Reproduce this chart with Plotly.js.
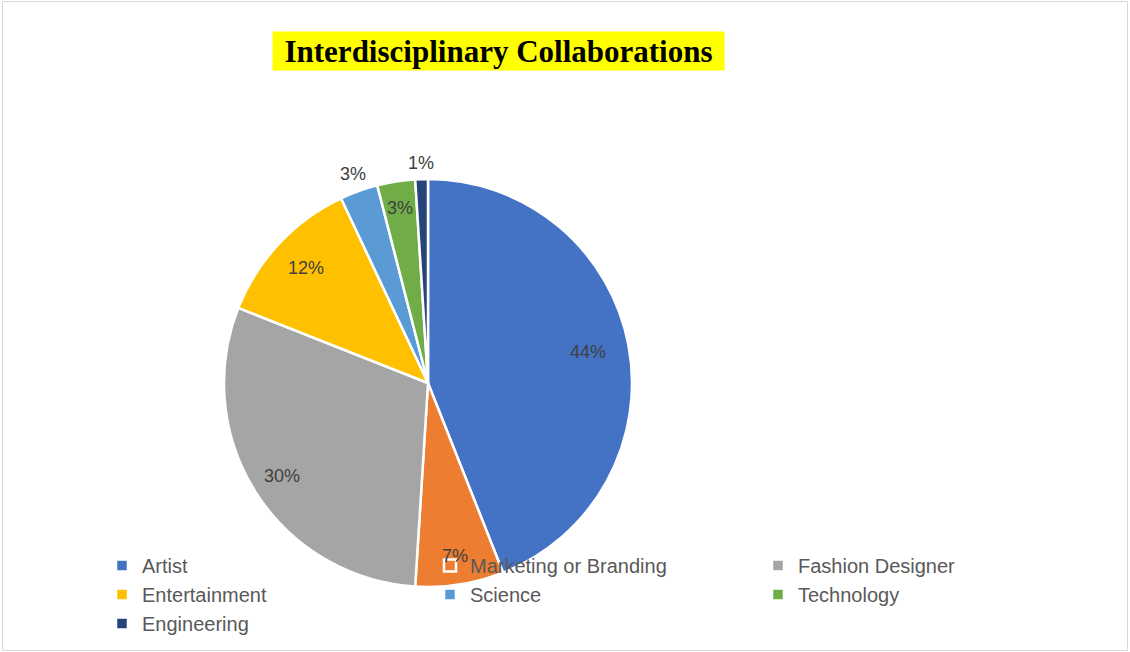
<!DOCTYPE html>
<html>
<head>
<meta charset="utf-8">
<script src="https://cdn.plot.ly/plotly-3.0.1.min.js"></script>
<style>
  html, body { margin: 0; padding: 0; background: #fff; }
  #chart { width: 1130px; height: 652px; }
</style>
</head>
<body>
<div id="chart"></div>
<script>
// ---- data ----
const categories = ["Artist", "Marketing or Branding", "Fashion Designer", "Entertainment", "Science", "Technology", "Engineering"];
const shares = [44, 7, 30, 12, 3, 3, 1];
const sliceColors = ["#4472C4", "#ED7D31", "#A5A5A5", "#FFC000", "#5B9BD5", "#70AD47", "#264478"];
const chartTitle = "Interdisciplinary Collaborations";

// ---- label placement (radius as fraction of pie radius) ----
const labelRadius = [0.80, 0.86, 0.85, 0.82, 1.09, 0.87, 1.08];

const W = 1130, H = 652;
const dom = { x: [224 / W, 632 / W], y: [1 - 587 / H, 1 - 179 / H] };
const cx = (dom.x[0] + dom.x[1]) / 2 * W;
const cy = (1 - (dom.y[0] + dom.y[1]) / 2) * H;
const R = (dom.x[1] - dom.x[0]) * W / 2;

const total = shares.reduce((a, b) => a + b, 0);
const annotations = [];
let acc = 0;
shares.forEach((v, i) => {
  const mid = (acc + v / 2) / total * 2 * Math.PI;
  acc += v;
  const r = R * labelRadius[i];
  const px = cx + r * Math.sin(mid);
  const py = cy - r * Math.cos(mid);
  annotations.push({
    xref: "paper", yref: "paper", x: px / W, y: 1 - py / H,
    text: Math.round(v / total * 100) + "%", showarrow: false,
    xanchor: "center", yanchor: "middle",
    font: { family: "Liberation Sans, Arial, sans-serif", size: 18, color: "#404040" }
  });
});

annotations.push({
  xref: "paper", yref: "paper", x: 498.5 / W, y: 1 - 51 / H,
  xanchor: "center", yanchor: "middle", showarrow: false,
  text: "<b>" + chartTitle + "</b>",
  width: 451, height: 38, borderpad: 0,
  bgcolor: "#FFFF00",
  font: { family: "Liberation Serif, Times New Roman, serif", size: 31, color: "#000000" }
});

const trace = {
  type: "pie",
  labels: categories,
  values: shares,
  sort: false,
  direction: "clockwise",
  rotation: 0,
  textinfo: "none",
  hoverinfo: "label+percent",
  marker: { colors: sliceColors, line: { color: "#FFFFFF", width: 2.5 } },
  domain: dom
};

const layout = {
  width: W, height: H,
  margin: { l: 0, r: 0, t: 0, b: 0 },
  paper_bgcolor: "#FFFFFF",
  showlegend: true,
  legend: {
    orientation: "h",
    x: 102 / W, xanchor: "left",
    y: 1 - 546 / H, yanchor: "top",
    entrywidth: 283, entrywidthmode: "pixels",
    font: { family: "Liberation Sans, Arial, sans-serif", size: 20, color: "#595959" },
    bgcolor: "rgba(0,0,0,0)"
  },
  annotations: annotations,
  shapes: [{
    type: "rect", xref: "paper", yref: "paper",
    x0: 2.5 / W, x1: 1127.5 / W, y0: 1 - 650.5 / H, y1: 1 - 1.5 / H,
    line: { color: "#D9D9D9", width: 1 }, fillcolor: "rgba(0,0,0,0)", layer: "below"
  }]
};

Plotly.newPlot("chart", [trace], layout, { displayModeBar: false, staticPlot: true });
</script>
</body>
</html>
